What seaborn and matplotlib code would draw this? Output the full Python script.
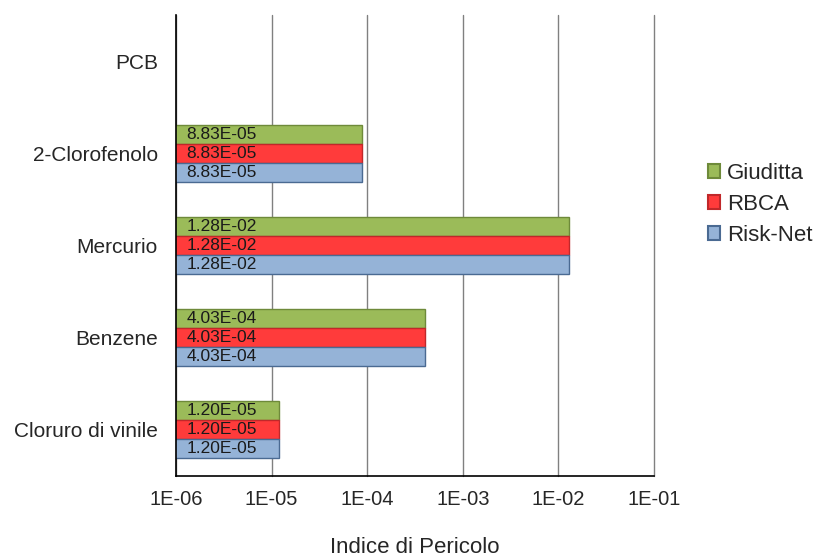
import matplotlib

matplotlib.use("Agg")
import matplotlib.pyplot as plt
import matplotlib.ticker as mticker
from matplotlib.patches import Patch
import numpy as np
import pandas as pd
import seaborn as sns

# data
substances = ["PCB", "2-Clorofenolo", "Mercurio", "Benzene", "Cloruro di vinile"]
models = ["Giuditta", "RBCA", "Risk-Net"]
giuditta = [np.nan, 8.83e-05, 1.28e-02, 4.03e-04, 1.20e-05]
rbca = [np.nan, 8.83e-05, 1.28e-02, 4.03e-04, 1.20e-05]
risknet = [np.nan, 8.83e-05, 1.28e-02, 4.03e-04, 1.20e-05]
xticks = [1e-6, 1e-5, 1e-4, 1e-3, 1e-2, 1e-1]
xtick_labels = ["1E-06", "1E-05", "1E-04", "1E-03", "1E-02", "1E-01"]

face = {"Giuditta": "#9BBB59", "RBCA": "#FF3B3B", "Risk-Net": "#95B3D7"}
edge = {"Giuditta": "#6E8A3A", "RBCA": "#C0282A", "Risk-Net": "#4A6A92"}

rows = []
for name, vals in zip(models, [giuditta, rbca, risknet]):
    for sub, v in zip(substances, vals):
        rows.append({"Sostanza": sub, "Modello": name, "Valore": v})
df = pd.DataFrame(rows)

sns.set_style("white")
plt.rcParams["font.family"] = ["Liberation Sans", "DejaVu Sans"]

fig = plt.figure(figsize=(8.24, 5.58), dpi=100)
ax = fig.add_axes([0.2136, 0.147, 0.58, 0.826])

sns.barplot(data=df.dropna(), x="Valore", y="Sostanza", hue="Modello",
            order=substances, hue_order=models, palette=face,
            orient="h", width=0.62, gap=0, errorbar=None, ax=ax,
            linewidth=1, saturation=1)
ax.set_xscale("log")
ax.set_xlim(1e-6, 1e-1)
ax.set_ylim(len(substances) - 0.5, -0.5)

# per-series edge colours + value labels inside the bars
for cont, name in zip(ax.containers, models):
    for patch in cont.patches:
        patch.set_edgecolor(edge[name])
        w = patch.get_width()
        if not np.isfinite(w) or w <= 0:
            continue
        yc = patch.get_y() + patch.get_height() / 2
        ax.text(1.28e-6, yc, f"{w:.2E}", va="center", ha="left",
                fontsize=12.5, color="#1a1a1a")

ax.set_xticks(xticks)
ax.set_xticklabels(xtick_labels)
ax.xaxis.set_minor_locator(mticker.NullLocator())
ax.grid(axis="x", color="#808080", linewidth=1)
ax.set_axisbelow(True)
for gl in ax.get_xgridlines():
    gl.set_clip_on(False)

ax.set_yticks(range(len(substances)))
ax.set_yticklabels(substances)
ax.set_yticks(np.arange(-0.5, len(substances), 1), minor=True)
ax.tick_params(axis="y", which="major", length=0, pad=13, labelsize=15)
ax.tick_params(axis="y", which="minor", length=6, width=1, direction="out",
               color="black")
ax.tick_params(axis="x", which="major", length=8, width=1, direction="inout",
               labelsize=14.5, pad=6, color="black")

for side in ["top", "right"]:
    ax.spines[side].set_visible(False)
for side in ["left", "bottom"]:
    ax.spines[side].set_color("black")
    ax.spines[side].set_linewidth(1.2)

ax.set_xlabel("Indice di Pericolo", fontsize=16, labelpad=20.5)
ax.set_ylabel("")

handles = [Patch(facecolor=face[m], edgecolor=edge[m], linewidth=1.5) for m in models]
ax.legend(handles, models, title=None, loc="center left",
          bbox_to_anchor=(1.094, 0.589), frameon=False, fontsize=16,
          handlelength=0.55, handleheight=0.55, handletextpad=0.3,
          labelspacing=0.45, borderaxespad=0)

fig.savefig("out.png", dpi=100)
